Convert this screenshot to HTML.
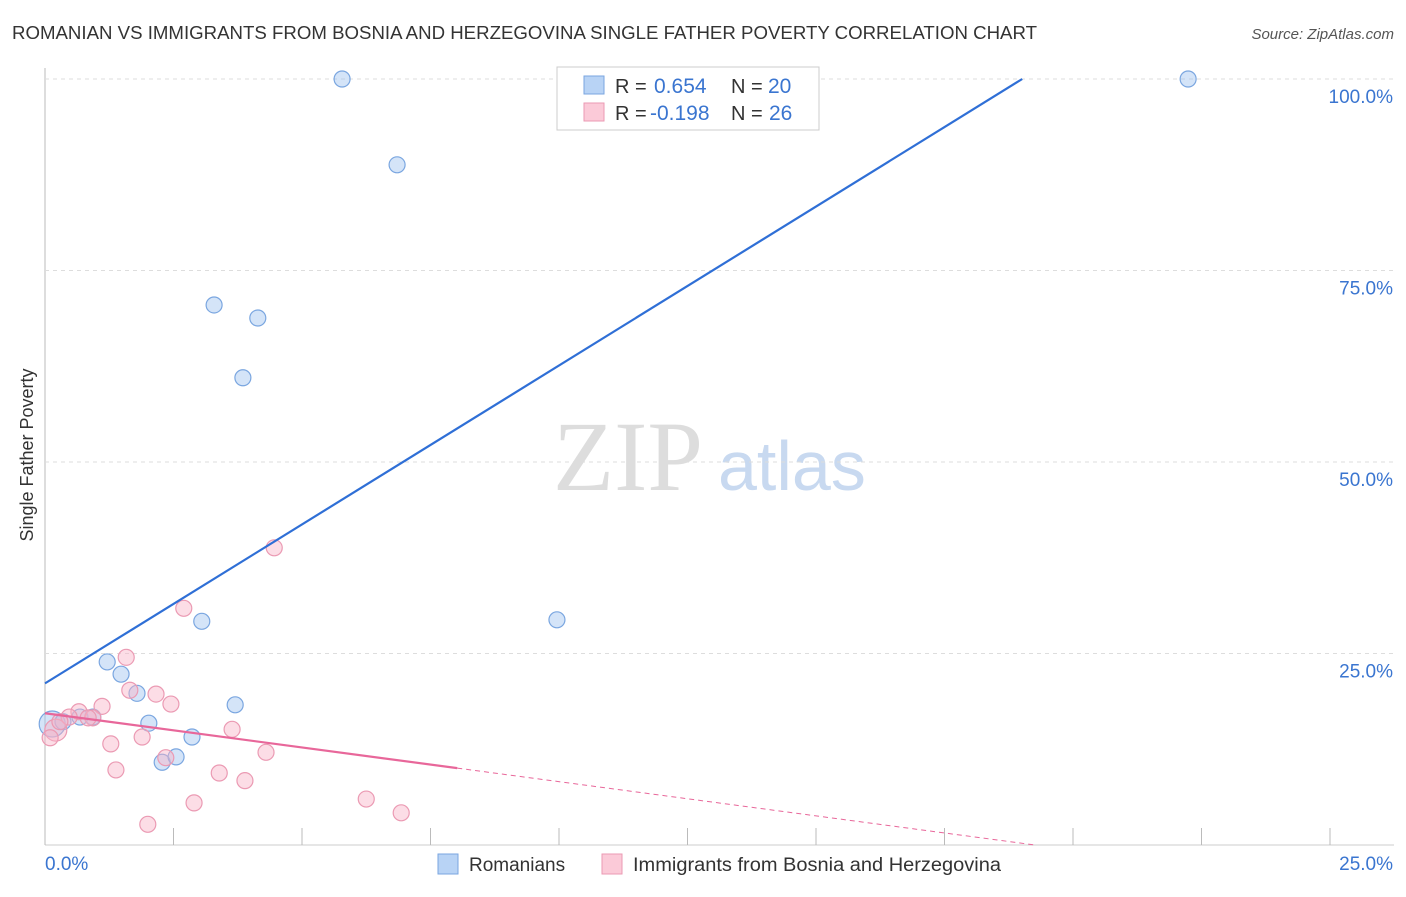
<!DOCTYPE html>
<html><head><meta charset="utf-8"><style>
body{margin:0;background:#fff;font-family:"Liberation Sans",sans-serif;}
svg text{font-family:"Liberation Sans",sans-serif;}
</style></head><body>
<svg id="c" width="1406" height="892" xmlns="http://www.w3.org/2000/svg">
<text x="12" y="39" font-size="18" fill="#333" textLength="1025" lengthAdjust="spacingAndGlyphs">ROMANIAN VS IMMIGRANTS FROM BOSNIA AND HERZEGOVINA SINGLE FATHER POVERTY CORRELATION CHART</text>
<text x="1394" y="39" font-size="15" fill="#555" font-style="italic" text-anchor="end">Source: ZipAtlas.com</text>
<text x="33" y="455" font-size="18" fill="#333" transform="rotate(-90 33 455)" text-anchor="middle">Single Father Poverty</text>
<text x="553" y="490" font-size="100" fill="#ddd" font-family="Liberation Serif" style="font-family:'Liberation Serif',serif">ZIP</text>
<text x="718" y="490" font-size="70" fill="#c8d9f0">atlas</text>
<g id="grid"></g><g id="pts"></g><g id="lines"></g>
<g>
<rect x="557" y="67" width="262" height="63" fill="#fff" stroke="#ccc"/>
<rect x="584" y="76" width="20" height="18" fill="#b8d3f5" stroke="#7aa6e0"/>
<text x="615" y="93" font-size="20" fill="#333">R = </text><text x="654" y="93" font-size="21" fill="#3a75d0">0.654</text>
<text x="731" y="93" font-size="20" fill="#333">N = </text><text x="768" y="93" font-size="21" fill="#3a75d0">20</text>
<rect x="584" y="103" width="20" height="18" fill="#fbcad8" stroke="#eb9ab3"/>
<text x="615" y="120" font-size="20" fill="#333">R = </text><text x="650" y="120" font-size="21" fill="#3a75d0">-0.198</text>
<text x="731" y="120" font-size="20" fill="#333">N = </text><text x="769" y="120" font-size="21" fill="#3a75d0">26</text>
</g>
<g>
<rect x="438" y="854" width="20" height="20" fill="#b8d3f5" stroke="#7aa6e0"/>
<text x="469" y="871" font-size="19" fill="#333">Romanians</text>
<rect x="602" y="854" width="20" height="20" fill="#fbcad8" stroke="#eb9ab3"/>
<text x="633" y="871" font-size="19" fill="#333" textLength="368" lengthAdjust="spacingAndGlyphs">Immigrants from Bosnia and Herzegovina</text>
</g>
</svg>
<script>
const xTicks=[0,2.5,5,7.5,10,12.5,15,17.5,20,22.5,25];
const yTicks=[25,50,75,100];
const blueX=[5.78,6.85,3.29,4.14,3.85,3.05,9.96,22.24,1.21,1.48,1.79,3.70,2.02,2.86,2.28,2.55,0.14,0.35,0.68,0.93];
const blueY=[100,88.8,70.5,68.8,61.0,29.2,29.4,100,23.9,22.3,19.8,18.3,15.9,14.1,10.8,11.5,15.8,16.1,16.7,16.7];
const pinkX=[4.46,2.70,1.58,1.65,2.16,2.45,1.11,0.66,0.93,0.84,3.64,0.21,0.10,1.28,1.89,4.30,2.35,1.38,3.39,3.89,2.90,6.25,6.93,2.00,0.47,0.29];
const pinkY=[38.8,30.9,24.5,20.2,19.7,18.4,18.1,17.4,16.6,16.6,15.1,15.0,14.0,13.2,14.1,12.1,11.4,9.8,9.4,8.4,5.5,6.0,4.2,2.7,16.7,16.1];
const blueLine=[21.1,4.15];
const pinkLine=[17.2,-0.893];
const NS="http://www.w3.org/2000/svg";
const X=v=>45+v*51.4, Y=v=>845-v*7.66;
function mk(p,t,a){const e=document.createElementNS(NS,t);for(const k in a)e.setAttribute(k,a[k]);p.appendChild(e);return e;}
const g=document.getElementById('grid');
mk(g,'line',{x1:45,y1:68,x2:45,y2:845,stroke:'#bbb'});
mk(g,'line',{x1:45,y1:845,x2:1394,y2:845,stroke:'#ccc'});
yTicks.forEach(t=>{const l=mk(g,'line',{x1:45,y1:Y(t),x2:1394,y2:Y(t),stroke:'#ddd','stroke-dasharray':'4,4'});


const tx=mk(g,'text',{x:1393,y:Y(t)+24,'font-size':19,fill:'#3a75d0','text-anchor':'end'});tx.textContent=t.toFixed(1)+'%';

});
xTicks.forEach(t=>{const l=mk(g,'line',{x1:X(t),y1:828,x2:X(t),y2:845,stroke:'#bbb'});

});
[[0,'start'],[25,'end']].forEach(([t,a])=>{const tx=mk(g,'text',{x:X(t)+(a=='end'?63:0),y:870,'font-size':19,fill:'#3a75d0','text-anchor':a});tx.textContent=t.toFixed(1)+'%';

});
const p=document.getElementById('pts');
blueX.forEach((x,i)=>{const c=mk(p,'circle',{cx:X(x),cy:Y(blueY[i]),r:i==16?13:8,fill:'rgba(160,195,240,0.45)',stroke:'#7aa6e0','stroke-width':1.2});

});
pinkX.forEach((x,i)=>{const c=mk(p,'circle',{cx:X(x),cy:Y(pinkY[i]),r:i==11?11:8,fill:'rgba(248,180,200,0.45)',stroke:'#eb9ab3','stroke-width':1.2});

});
const L=document.getElementById('lines');
const bx2=(100-blueLine[0])/blueLine[1];
const bl=mk(L,'line',{x1:X(0),y1:Y(blueLine[0]),x2:X(bx2),y2:Y(100),stroke:'#2f6fd6','stroke-width':2.2});


const pe=8.02, pz=-pinkLine[0]/pinkLine[1];
const pl=mk(L,'line',{x1:X(0),y1:Y(pinkLine[0]),x2:X(pe),y2:Y(pinkLine[0]+pinkLine[1]*pe),stroke:'#e8679a','stroke-width':2.2});


const pd=mk(L,'line',{x1:X(pe),y1:Y(pinkLine[0]+pinkLine[1]*pe),x2:X(pz),y2:Y(0),stroke:'#e8679a','stroke-width':1,'stroke-dasharray':'5,4'});


</script>
</body></html>
